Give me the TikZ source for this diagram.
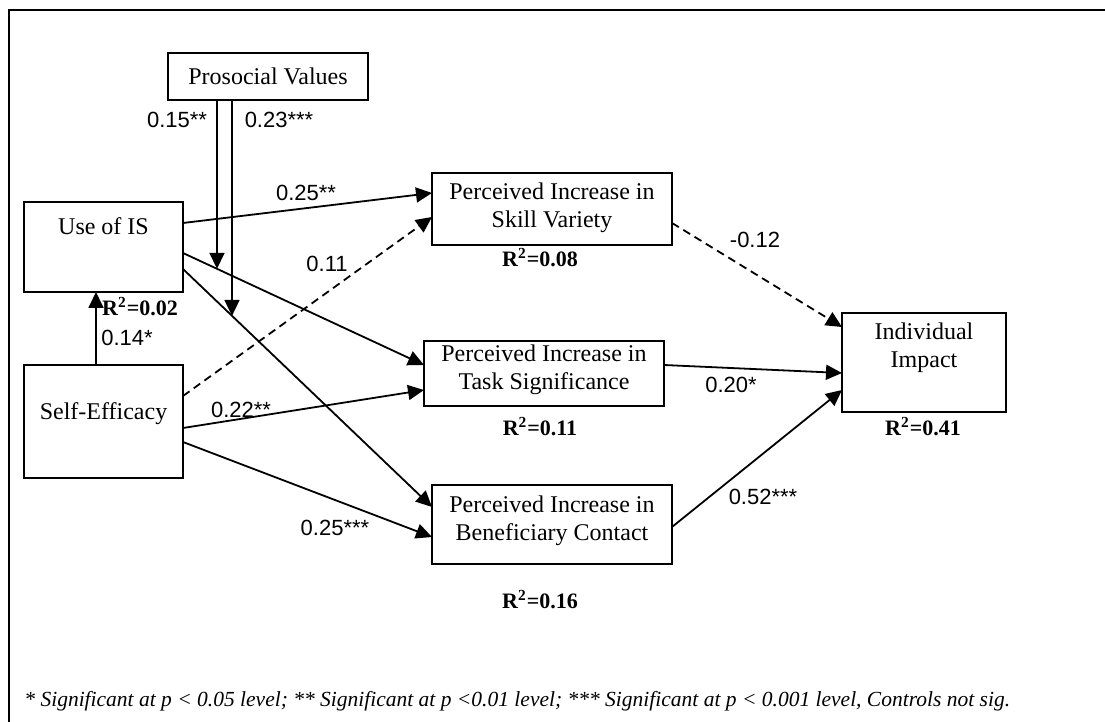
\documentclass[tikz,border=0pt]{standalone}
\usepackage{fontspec}
\setmainfont{Liberation Serif}
\newfontfamily\coeffont{Liberation Sans}
\usetikzlibrary{arrows.meta,calc}
\begin{document}
\begin{tikzpicture}[x=0.5pt,y=-0.5pt,
  box/.style={draw,line width=1pt,inner sep=0pt,outer sep=0pt},
  boxtext/.style={font=\fontsize{12}{14}\selectfont,align=center,inner sep=0pt},
  coef/.style={font=\coeffont\fontsize{11}{13}\selectfont,inner sep=0pt},
  rsq/.style={font=\bfseries\fontsize{11}{13}\selectfont,inner sep=0pt},
  link/.style={line width=0.9pt,-{Triangle[length=8pt,width=7.5pt]}},
  weak/.style={link,dash pattern=on 4pt off 2.6pt}
]
\useasboundingbox (0,0) rectangle (1105,722);

% frame
\draw[line width=1.4pt] (9,722) -- (9,10) -- (1105,10);

% constructs
\node[box,minimum width=100pt,minimum height=23.5pt] (pro)    at (268,76.5)  {};
\node[box,minimum width=79.5pt,minimum height=45pt]  (use)    at (103.5,247) {};
\node[box,minimum width=79.5pt,minimum height=56.5pt](self)   at (103.5,421.5) {};
\node[box,minimum width=120pt,minimum height=36pt]   (skill)  at (552,209)   {};
\node[box,minimum width=120pt,minimum height=32.5pt] (task)   at (544,373.5) {};
\node[box,minimum width=120pt,minimum height=39.5pt] (bene)   at (552,524.5) {};
\node[box,minimum width=82pt,minimum height=49.5pt]  (impact) at (924,362.5) {};

\node[boxtext] (pro-t)    at (268,76)   {Prosocial Values};
\node[boxtext] (use-t)    at (103.5,226) {Use of IS};
\node[boxtext] (self-t)   at (103.5,414) {Self-Efficacy};
\node[boxtext] (skill-t)  at (552,208)  {Perceived Increase in\\Skill Variety};
\node[boxtext] (task-t)   at (544,370)  {Perceived Increase in\\Task Significance};
\node[boxtext] (bene-t)   at (552,520.5){Perceived Increase in\\Beneficiary Contact};
\node[boxtext] (impact-t) at (924,348)  {Individual\\Impact};

% explained variance
\node[rsq] (r-use)    at (140,307)  {R\textsuperscript{2}=0.02};
\node[rsq] (r-skill)  at (540,258)  {R\textsuperscript{2}=0.08};
\node[rsq] (r-task)   at (540,427)  {R\textsuperscript{2}=0.11};
\node[rsq] (r-bene)   at (540,600)  {R\textsuperscript{2}=0.16};
\node[rsq] (r-impact) at (923,427)  {R\textsuperscript{2}=0.41};

% paths
\draw[link] ([yshift=12pt]use.east)    -- ([yshift=8pt]skill.west);
\draw[link] ([yshift=-3pt]use.east)    -- coordinate[pos=0.141] (m1) ([yshift=4.25pt]task.west);
\draw[link] ([yshift=-11pt]use.east)   -- coordinate[pos=0.197] (m2) ([yshift=8.75pt]bene.west);
\draw[link] ([xshift=-3.75pt]self.north) -- ([xshift=-3.75pt]use.south);
\draw[weak] ([yshift=12.75pt]self.east) -- ([yshift=-4pt]skill.west);
\draw[link] ([yshift=-3.25pt]self.east) -- ([yshift=-8.25pt]task.west);
\draw[link] ([yshift=-10.25pt]self.east) -- ([yshift=-6.25pt]bene.west);
\draw[weak] ([yshift=-7pt]skill.east)  -- ([yshift=17.75pt]impact.west);
\draw[link] ([yshift=4.25pt]task.east) -- ([yshift=-5.25pt]impact.west);
\draw[link] ([yshift=-1.25pt]bene.east) -- ([yshift=-13.75pt]impact.west);

% moderation by prosocial values
\draw[link] ([xshift=-25.5pt]pro.south) -- ([xshift=-25.5pt]pro.south |- m1);
\draw[link] ([xshift=-18pt]pro.south)   -- ([xshift=-18pt]pro.south |- m2);

% coefficients
\node[coef] (c-pu1)  at (177,120) {0.15**};
\node[coef] (c-pu2)  at (279,120) {0.23***};
\node[coef] (c-us)   at (306,193) {0.25**};
\node[coef] (c-ss)   at (327,264) {0.11};
\node[coef] (c-su)   at (127,338) {0.14*};
\node[coef] (c-st)   at (241,410) {0.22**};
\node[coef] (c-sb)   at (335,528) {0.25***};
\node[coef] (c-ki)   at (755,240) {-0.12};
\node[coef] (c-ti)   at (731,385) {0.20*};
\node[coef] (c-bi)   at (763,497) {0.52***};

% significance note
\node[anchor=west,inner sep=0pt,font=\itshape\fontsize{10.75}{13}\selectfont] (note) at (24,701)
  {* Significant at p < 0.05 level; ** Significant at p <0.01 level; *** Significant at p < 0.001 level, Controls not sig.};
\end{tikzpicture}
\end{document}
